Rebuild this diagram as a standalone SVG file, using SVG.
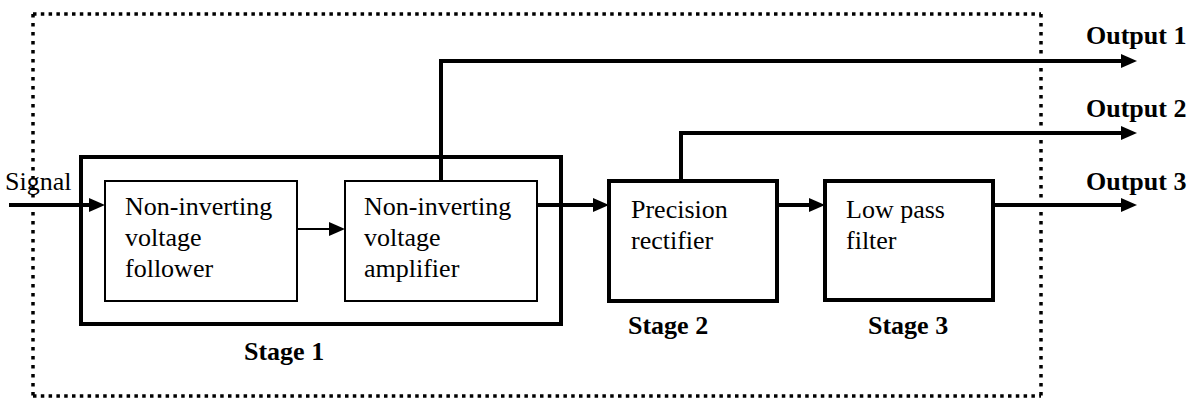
<svg xmlns="http://www.w3.org/2000/svg" width="1193" height="398" viewBox="0 0 1193 398">
  <style>
    .txt { font-family: "Liberation Serif", "Times New Roman", serif; font-size: 26px; fill: #000; }
    .bold { font-weight: bold; }
    .thick { fill: none; stroke: #000; stroke-width: 4; }
    .thin { fill: none; stroke: #000; stroke-width: 2; }
    .dotH { fill: none; stroke: #000; stroke-width: 3.5; stroke-dasharray: 3.5 4.3; }
    .dotV { fill: none; stroke: #000; stroke-width: 3.5; stroke-dasharray: 3.5 5.5; }
  </style>
  <defs>
    <marker id="arrow" markerUnits="userSpaceOnUse" markerWidth="17" markerHeight="15" refX="8" refY="7" orient="auto">
      <path d="M0,0 L16,7 L0,14 z" fill="#000"/>
    </marker>
  </defs>

  <rect width="1193" height="398" fill="#fff"/>

  <!-- dotted system boundary -->
  <g id="boundary">
    <line class="dotH" x1="33" y1="14" x2="1041" y2="14"/>
    <line class="dotH" x1="33" y1="396" x2="1041" y2="396"/>
    <line class="dotV" x1="33" y1="14" x2="33" y2="396"/>
    <line class="dotV" x1="1041" y1="14" x2="1041" y2="396"/>
  </g>

  <!-- stage 1 enclosure -->
  <g id="stage1">
    <rect class="thick" x="81" y="157" width="480" height="167"/>
    <text class="txt bold" x="244" y="360">Stage 1</text>
  </g>

  <g id="follower">
    <rect class="thin" x="105" y="181" width="192" height="120"/>
    <text class="txt" x="125" y="215">Non-inverting</text>
    <text class="txt" x="125" y="246">voltage</text>
    <text class="txt" x="125" y="277">follower</text>
  </g>

  <g id="amplifier">
    <rect class="thin" x="345" y="181" width="192" height="120"/>
    <text class="txt" x="364" y="215">Non-inverting</text>
    <text class="txt" x="364" y="246">voltage</text>
    <text class="txt" x="364" y="277">amplifier</text>
  </g>

  <g id="rectifier">
    <rect class="thick" x="609" y="181" width="168" height="120"/>
    <text class="txt" x="631" y="218">Precision</text>
    <text class="txt" x="631" y="249">rectifier</text>
    <text class="txt bold" x="628" y="334">Stage 2</text>
  </g>

  <g id="lowpass">
    <rect class="thick" x="825" y="181" width="168" height="119"/>
    <text class="txt" x="846" y="218">Low pass</text>
    <text class="txt" x="846" y="249">filter</text>
    <text class="txt bold" x="868" y="334">Stage 3</text>
  </g>

  <g id="labels">
    <text class="txt" x="5" y="190">Signal</text>
    <text class="txt bold" x="1086" y="44">Output 1</text>
    <text class="txt bold" x="1086" y="117">Output 2</text>
    <text class="txt bold" x="1086" y="190">Output 3</text>
  </g>

  <!-- signal path -->
  <g id="connectors">
    <line class="thick" x1="9" y1="205" x2="97" y2="205" marker-end="url(#arrow)"/>
    <line class="thin" x1="297" y1="229" x2="337" y2="229" marker-end="url(#arrow)"/>
    <line class="thick" x1="537" y1="205" x2="601" y2="205" marker-end="url(#arrow)"/>
    <line class="thick" x1="777" y1="205" x2="817" y2="205" marker-end="url(#arrow)"/>
    <line class="thick" x1="993" y1="205" x2="1129" y2="205" marker-end="url(#arrow)"/>
    <path class="thick" d="M441,181 V61 H1129" marker-end="url(#arrow)"/>
    <path class="thick" d="M681,181 V133 H1129" marker-end="url(#arrow)"/>
  </g>
</svg>
